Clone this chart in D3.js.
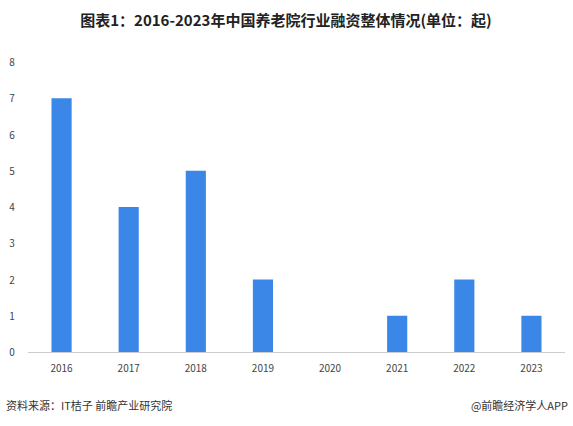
<!DOCTYPE html>
<html><head><meta charset="utf-8">
<script src="https://cdn.jsdelivr.net/npm/d3@7"></script>
<style>body{margin:0;background:#fff}</style>
</head><body><svg width="573" height="426"></svg>
<script>
const years=["2016","2017","2018","2019","2020","2021","2022","2023"];
const counts=[7,4,5,2,0,1,2,1];
const yTicks=[0,1,2,3,4,5,6,7,8];
const svg=d3.select("svg");
const font="'Noto Sans CJK SC','Noto Sans',sans-serif";
const x=d3.scaleBand().domain(years).range([28,565]).paddingInner(0.7).paddingOuter(0.35);
const y=d3.scaleLinear().domain([0,8]).range([352,62]);
svg.append("text").attr("x",286).attr("y",26).attr("text-anchor","middle").attr("font-family",font).attr("font-weight","bold").attr("font-size",15).attr("fill","#222").text("图表1：2016-2023年中国养老院行业融资整体情况(单位：起)");
svg.selectAll("text.yt").data(yTicks).join("text").attr("x",12).attr("y",d=>y(d)+4).attr("text-anchor","middle").attr("font-family",font).attr("font-size",10).attr("fill","#444").text(d=>d);
svg.selectAll("rect").data(years).join("rect").attr("x",d=>x(d)).attr("width",x.bandwidth()).attr("y",(d,i)=>y(counts[i])).attr("height",(d,i)=>y(0)-y(counts[i])).attr("fill","#3a87e8");
svg.append("line").attr("x1",28).attr("x2",565).attr("y1",352.5).attr("y2",352.5).attr("stroke","#ccc");
svg.selectAll("text.xt").data(years).join("text").attr("x",d=>x(d)+x.bandwidth()/2).attr("y",372).attr("text-anchor","middle").attr("font-family",font).attr("font-size",10).attr("fill","#444").text(d=>d);
svg.append("text").attr("x",6).attr("y",410).attr("font-family",font).attr("font-size",11).attr("fill","#333").text("资料来源：IT桔子 前瞻产业研究院");
svg.append("text").attr("x",568).attr("y",410).attr("text-anchor","end").attr("font-family",font).attr("font-size",11).attr("fill","#333").text("@前瞻经济学人APP");
</script></body></html>
